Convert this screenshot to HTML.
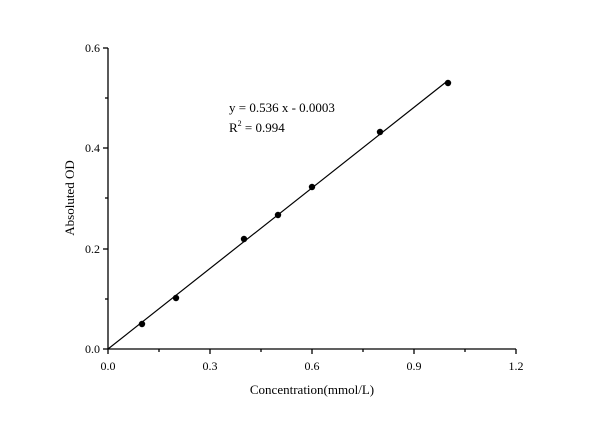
<!DOCTYPE html><html><head><style>body{margin:0;background:#fff}svg text{font-family:"Liberation Serif",serif;fill:#000}</style></head><body>
<svg width="600" height="419" xmlns="http://www.w3.org/2000/svg">
<g stroke="#000" stroke-width="1.3" fill="none">
<line x1="108" y1="48" x2="108" y2="349"/>
<line x1="108" y1="349" x2="516" y2="349"/>
<line x1="103" y1="349" x2="108" y2="349"/><line x1="103" y1="249" x2="108" y2="249"/><line x1="103" y1="148" x2="108" y2="148"/><line x1="103" y1="48" x2="108" y2="48"/>
<line x1="105" y1="299" x2="108" y2="299"/><line x1="105" y1="198" x2="108" y2="198"/><line x1="105" y1="98" x2="108" y2="98"/>
<line x1="108" y1="349" x2="108" y2="354"/><line x1="210" y1="349" x2="210" y2="354"/><line x1="312" y1="349" x2="312" y2="354"/><line x1="414" y1="349" x2="414" y2="354"/><line x1="516" y1="349" x2="516" y2="354"/>
<line x1="159" y1="349" x2="159" y2="352"/><line x1="261" y1="349" x2="261" y2="352"/><line x1="363" y1="349" x2="363" y2="352"/><line x1="465" y1="349" x2="465" y2="352"/>
<line x1="108" y1="349" x2="448" y2="80.5" stroke-width="1.2"/>
</g>
<g fill="#000">
<circle cx="142" cy="324" r="3.2"/><circle cx="176" cy="298" r="3.2"/><circle cx="244" cy="239" r="3.2"/><circle cx="278" cy="215" r="3.2"/><circle cx="312" cy="187" r="3.2"/><circle cx="380" cy="132" r="3.2"/><circle cx="448" cy="83" r="3.2"/>
</g>
<g font-size="12" text-anchor="end">
<text x="100" y="353">0.0</text><text x="100" y="253">0.2</text><text x="100" y="152">0.4</text><text x="100" y="52">0.6</text>
</g>
<g font-size="12" text-anchor="middle">
<text x="108" y="370">0.0</text><text x="210" y="370">0.3</text><text x="312" y="370">0.6</text><text x="414" y="370">0.9</text><text x="516" y="370">1.2</text>
</g>
<text x="312" y="394" font-size="13" text-anchor="middle">Concentration(mmol/L)</text>
<text transform="translate(74,198) rotate(-90)" font-size="13" text-anchor="middle">Absoluted OD</text>
<text x="229" y="112" font-size="13">y = 0.536 x - 0.0003</text>
<text x="229" y="132" font-size="13">R<tspan font-size="8" dy="-6">2</tspan><tspan dy="6"> = 0.994</tspan></text>
</svg></body></html>
